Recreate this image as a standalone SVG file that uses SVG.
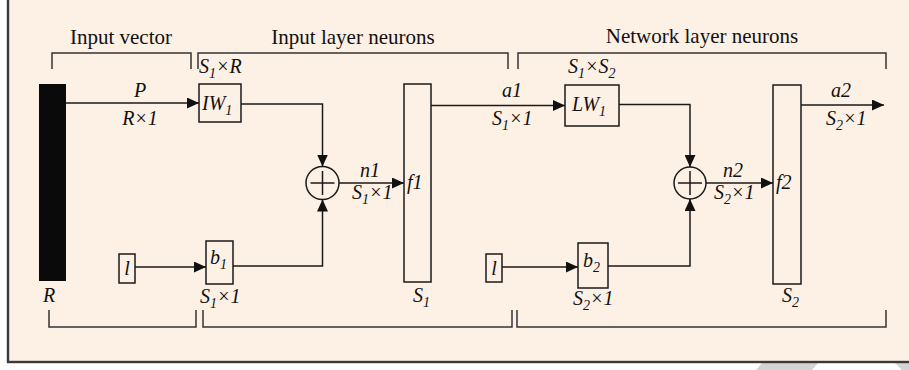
<svg xmlns="http://www.w3.org/2000/svg" width="909" height="370" viewBox="0 0 909 370">
<defs>
<marker id="ah" markerWidth="13" markerHeight="11" refX="12" refY="5.5" orient="auto" markerUnits="userSpaceOnUse">
<path d="M0,0 L12,5.5 L0,11 Z" fill="#111"/>
</marker>
<style>
.ln{fill:none;stroke:#1a1a1a;stroke-width:1.5}
.br{fill:none;stroke:#333;stroke-width:1.5}
.bx{fill:none;stroke:#1a1a1a;stroke-width:1.5}
.t{font-family:"Liberation Serif","Times New Roman",serif;font-size:21px;fill:#111}
.m{font-family:"Liberation Serif","Times New Roman",serif;font-style:italic;font-size:20px;fill:#111}
.s{font-size:14px}
</style>
</defs>
<rect x="0" y="0" width="909" height="370" fill="#ffffff"/>
<polygon points="756,370 762,363 818,363 812,370" fill="#d4d4d4"/>
<polygon points="895,363 909,363 909,370 902,370" fill="#d4d4d4"/>
<rect x="8" y="-4" width="910" height="366" fill="#fdf0e4" stroke="#3a3a3a" stroke-width="2.4"/>

<g id="brackets">
<path class="br" d="M52,69 V53 H191 V69"/>
<path class="br" d="M198,69 V53 H508 V69"/>
<path class="br" d="M518,69 V53 H886 V69"/>
<path class="br" d="M49,310 V327 H196 V310"/>
<path class="br" d="M203,310 V327 H512 V310"/>
<path class="br" d="M517,310 V327 H886 V310"/>
<text class="t" x="121" y="44" text-anchor="middle">Input vector</text>
<text class="t" x="353" y="44" text-anchor="middle">Input layer neurons</text>
<text class="t" x="702" y="43" text-anchor="middle">Network layer neurons</text>
</g>

<g id="input-vector">
<rect x="39" y="84" width="27" height="197" fill="#0a0a0a"/>
<text class="m" x="49" y="302" text-anchor="middle">R</text>
</g>

<g id="IW1">
<rect class="bx" x="199" y="84" width="42" height="38"/>
<text class="m" x="202" y="110">IW<tspan class="s" dy="5">1</tspan></text>
<text class="m" x="199" y="73">S<tspan class="s" dy="5">1</tspan><tspan dy="-5">×R</tspan></text>
</g>

<g id="bias-in1">
<rect class="bx" x="119" y="254" width="16" height="29"/>
<text class="m" x="127" y="275" text-anchor="middle">l</text>
</g>

<g id="b1">
<rect class="bx" x="206" y="241" width="27" height="43"/>
<text class="m" x="210" y="264">b<tspan class="s" dy="5">1</tspan></text>
<text class="m" x="200" y="303">S<tspan class="s" dy="5">1</tspan><tspan dy="-5">×1</tspan></text>
</g>

<g id="sum1">
<circle cx="322.5" cy="183" r="16.5" fill="none" stroke="#1a1a1a" stroke-width="1.5"/>
<path class="ln" d="M322.5,171 V195 M310.5,183 H334.5"/>
</g>

<g id="f1">
<rect class="bx" x="404" y="84" width="27" height="198"/>
<text class="m" x="407" y="189">f1</text>
<text class="m" x="413" y="302">S<tspan class="s" dy="5">1</tspan></text>
</g>

<g id="LW1">
<rect class="bx" x="565" y="85" width="54" height="41"/>
<text class="m" x="572" y="111">LW<tspan class="s" dy="5">1</tspan></text>
<text class="m" x="568" y="73">S<tspan class="s" dy="5">1</tspan><tspan dy="-5">×S</tspan><tspan class="s" dy="5">2</tspan></text>
</g>

<g id="bias-in2">
<rect class="bx" x="486" y="254" width="16" height="28"/>
<text class="m" x="494" y="275" text-anchor="middle">l</text>
</g>

<g id="b2">
<rect class="bx" x="578" y="243" width="30" height="45"/>
<text class="m" x="583" y="267">b<tspan class="s" dy="5">2</tspan></text>
<text class="m" x="573" y="305">S<tspan class="s" dy="5">2</tspan><tspan dy="-5">×1</tspan></text>
</g>

<g id="sum2">
<circle cx="690" cy="183" r="16" fill="none" stroke="#1a1a1a" stroke-width="1.5"/>
<path class="ln" d="M690,171 V195 M678,183 H702"/>
</g>

<g id="f2">
<rect class="bx" x="773" y="85" width="28" height="199"/>
<text class="m" x="776" y="189">f2</text>
<text class="m" x="782" y="302">S<tspan class="s" dy="5">2</tspan></text>
</g>

<g id="connectors">
<path class="ln" d="M66,103 H199" marker-end="url(#ah)"/>
<path class="ln" d="M241,104 H322.5 V166.5" marker-end="url(#ah)"/>
<path class="ln" d="M135,267 H206" marker-end="url(#ah)"/>
<path class="ln" d="M233,266 H322.5 V199.5" marker-end="url(#ah)"/>
<path class="ln" d="M339,183 H404" marker-end="url(#ah)"/>
<path class="ln" d="M431,105.5 H565" marker-end="url(#ah)"/>
<path class="ln" d="M619,104.5 H690 V167" marker-end="url(#ah)"/>
<path class="ln" d="M502,267 H578" marker-end="url(#ah)"/>
<path class="ln" d="M608,266 H690 V199" marker-end="url(#ah)"/>
<path class="ln" d="M706,183 H773" marker-end="url(#ah)"/>
<path class="ln" d="M801,105 H884" marker-end="url(#ah)"/>
<text class="m" x="140" y="97" text-anchor="middle">P</text>
<text class="m" x="140" y="125" text-anchor="middle">R×1</text>
<text class="m" x="370" y="177" text-anchor="middle">n1</text>
<text class="m" x="352" y="199">S<tspan class="s" dy="5">1</tspan><tspan dy="-5">×1</tspan></text>
<text class="m" x="512" y="97" text-anchor="middle">a1</text>
<text class="m" x="492" y="125">S<tspan class="s" dy="5">1</tspan><tspan dy="-5">×1</tspan></text>
<text class="m" x="733" y="177" text-anchor="middle">n2</text>
<text class="m" x="714" y="199">S<tspan class="s" dy="5">2</tspan><tspan dy="-5">×1</tspan></text>
<text class="m" x="841" y="97" text-anchor="middle">a2</text>
<text class="m" x="826" y="125">S<tspan class="s" dy="5">2</tspan><tspan dy="-5">×1</tspan></text>
</g>
</svg>
